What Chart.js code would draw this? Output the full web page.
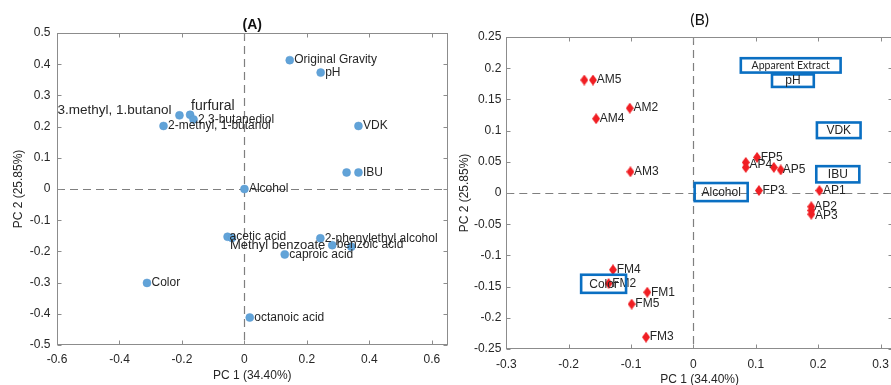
<!doctype html>
<html lang="en">
  <head>
    <meta charset="UTF-8" />
    <title>PCA loadings and scores</title>
    <script src="https://cdn.jsdelivr.net/npm/chart.js"></script>
    <style>
      html,
      body {
        margin: 0;
        padding: 0;
        width: 891px;
        height: 385px;
        overflow: hidden;
        background: #fff;
      }
      .panel {
        position: absolute;
        top: 0;
      }
      #wrapA {
        left: 0;
        width: 452px;
        height: 385px;
      }
      #wrapB {
        left: 447px;
        width: 452px;
        height: 392px;
      }
    </style>
  </head>
  <body>
    <div id="wrapA" class="panel"><canvas id="chartA"></canvas></div>
    <div id="wrapB" class="panel"><canvas id="chartB"></canvas></div>

    <script>
      // (A) variable loadings
      const varNames = [
        "Original Gravity", "pH", "3.methyl, 1.butanol", "furfural",
        "2,3-butanediol", "2-methyl, 1-butanol", "VDK", "IBU", "",
        "Alcohol", "acetic acid", "Methyl benzoate", "2-phenylethyl alcohol",
        "benzoic acid", "", "caproic acid", "Color", "octanoic acid",
      ];
      const varPC1 = [
        0.145, 0.244, -0.208, -0.174, -0.163, -0.259, 0.365, 0.365, 0.327,
        0.0, -0.054, -0.04, 0.243, 0.281, 0.342, 0.129, -0.312, 0.017,
      ];
      const varPC2 = [
        0.413, 0.373, 0.236, 0.238, 0.223, 0.202, 0.202, 0.053, 0.053,
        0.0, -0.153, -0.157, -0.158, -0.18, -0.185, -0.21, -0.301, -0.412,
      ];

      // (B) sample scores
      const sampleNames = [
        "", "AM5", "AM2", "AM4", "AM3",
        "FP5", "AP4", "", "", "AP5", "FP3", "AP1", "AP2", "", "AP3",
        "FM4", "FM2", "FM1", "FM5", "FM3",
      ];
      const samplePC1 = [
        -0.175, -0.161, -0.102, -0.156, -0.101,
        0.102, 0.084, 0.084, 0.129, 0.14, 0.105, 0.202, 0.189, 0.189, 0.189,
        -0.129, -0.136, -0.074, -0.099, -0.076,
      ];
      const samplePC2 = [
        0.181, 0.181, 0.136, 0.119, 0.034,
        0.057, 0.049, 0.041, 0.041, 0.037, 0.004, 0.004, -0.022, -0.028, -0.034,
        -0.123, -0.145, -0.159, -0.178, -0.231,
      ];

      // (B) boxed variable names, extents in PC units
      const boxNames = ["Apparent Extract", "pH", "VDK", "IBU", "Alcohol", "Color"];
      const boxLeft = [0.076, 0.126, 0.198, 0.197, 0.002, -0.18];
      const boxRight = [0.236, 0.193, 0.268, 0.266, 0.087, -0.108];
      const boxTop = [0.216, 0.19, 0.113, 0.043, 0.016, -0.131];
      const boxBottom = [0.193, 0.17, 0.088, 0.017, -0.013, -0.16];

      // tick values
      const ticksAx = [-0.6, -0.4, -0.2, 0, 0.2, 0.4, 0.6];
      const ticksAy = [-0.5, -0.4, -0.3, -0.2, -0.1, 0, 0.1, 0.2, 0.3, 0.4, 0.5];
      const ticksBx = [-0.3, -0.2, -0.1, 0, 0.1, 0.2, 0.3];
      const ticksBy = [-0.25, -0.2, -0.15, -0.1, -0.05, 0, 0.05, 0.1, 0.15, 0.2, 0.25];

      // label placement tweaks (pixels)
      const tweaksA = {
        "3.methyl, 1.butanol": { dx: -8, dy: -5, align: "right", size: 13.5 },
        furfural: { dx: 1, dy: -9, size: 14 },
        "Methyl benzoate": { dx: -2, dy: 7, size: 13 },
        "acetic acid": { dx: 2 },
      };
      const tweaksB = {
        AP4: { dy: 2 },
        AP5: { dx: 2 },
        AP3: { dy: 1.5 },
        AP2: { dx: 3 },
      };

      const FONT = "'Liberation Sans', Arial, sans-serif";
      const TEXT = "#262626";
      const AXIS = "#8c8c8c";

      const fmt = (v) => String(Math.round(v * 100) / 100);

      const frame = {
        id: "frame",
        beforeDatasetsDraw(chart) {
          const { ctx, chartArea: a } = chart;
          const x = chart.scales.x;
          const y = chart.scales.y;
          ctx.save();
          // dashed zero lines
          ctx.strokeStyle = "#7f7f7f";
          ctx.lineWidth = 1.2;
          ctx.setLineDash([8, 5]);
          const x0 = Math.round(x.getPixelForValue(0)) + 0.5;
          const y0 = Math.round(y.getPixelForValue(0)) + 0.5;
          ctx.beginPath();
          ctx.moveTo(x0, a.top);
          ctx.lineTo(x0, a.bottom);
          ctx.moveTo(a.left, y0);
          ctx.lineTo(a.right, y0);
          ctx.stroke();
          // box with inward ticks
          ctx.setLineDash([]);
          ctx.strokeStyle = AXIS;
          ctx.lineWidth = 1;
          const L = Math.round(a.left) + 0.5;
          const R = Math.round(a.right) - 0.5;
          const T = Math.round(a.top) + 0.5;
          const B = Math.round(a.bottom) - 0.5;
          ctx.strokeRect(L, T, R - L, B - T);
          ctx.beginPath();
          x.ticks.forEach((t) => {
            const px = Math.round(x.getPixelForValue(t.value)) + 0.5;
            ctx.moveTo(px, B);
            ctx.lineTo(px, B - 4);
            ctx.moveTo(px, T);
            ctx.lineTo(px, T + 4);
          });
          y.ticks.forEach((t) => {
            const py = Math.round(y.getPixelForValue(t.value)) + 0.5;
            ctx.moveTo(L, py);
            ctx.lineTo(L + 4, py);
            ctx.moveTo(R, py);
            ctx.lineTo(R - 4, py);
          });
          ctx.stroke();
          ctx.restore();
        },
        afterDatasetsDraw(chart) {
          const ctx = chart.ctx;
          chart.data.datasets.forEach((ds, di) => {
            const meta = chart.getDatasetMeta(di);
            ctx.save();
            ctx.fillStyle = TEXT;
            ctx.textBaseline = "middle";
            ds.names.forEach((name, i) => {
              if (!name) return;
              const el = meta.data[i];
              const tw = ds.tweaks[name] || {};
              ctx.font = (tw.size || 12) + "px " + FONT;
              ctx.textAlign = tw.align || "left";
              const dx = tw.dx !== undefined ? tw.dx : ds.labelGap;
              ctx.fillText(name, el.x + dx, el.y + (tw.dy || 0));
            });
            ctx.restore();
          });
        },
      };

      function axis(min, max, ticks, title, tickPad, titlePad, extra) {
        return Object.assign(
          {
            type: "linear",
            min: min,
            max: max,
            afterBuildTicks: (s) => {
              s.ticks = ticks.map((v) => ({ value: v }));
            },
            grid: { display: false, drawTicks: false },
            border: { display: false },
            ticks: {
              color: TEXT,
              padding: tickPad,
              font: { family: FONT, size: 12 },
              callback: (v) => fmt(v),
            },
            title: {
              display: true,
              text: title,
              color: TEXT,
              padding: titlePad,
              font: { family: FONT, size: 12 },
            },
          },
          extra
        );
      }

      // (A) loadings
      new Chart(document.getElementById("chartA"), {
        type: "scatter",
        data: {
          datasets: [
            {
              data: varPC1.map((v, i) => ({ x: v, y: varPC2[i] })),
              names: varNames,
              tweaks: tweaksA,
              labelGap: 4.5,
              backgroundColor: "rgb(97,163,216)",
              borderColor: "rgb(88,153,208)",
              borderWidth: 0.5,
              pointRadius: 4,
              pointHoverRadius: 4,
            },
          ],
        },
        options: {
          responsive: true,
          maintainAspectRatio: false,
          animation: false,
          layout: { padding: { left: 0, right: 4, top: 0, bottom: 0 } },
          plugins: {
            legend: { display: false },
            tooltip: { enabled: false },
            title: {
              display: true,
              text: "(A)",
              fullSize: false,
              color: "#111",
              font: { family: FONT, size: 14, weight: "bold" },
              padding: { top: 16.5, bottom: -0.3 },
            },
          },
          scales: {
            x: axis(-0.6, 0.65, ticksAx, "PC 1 (34.40%)", 7.5, { top: 0, bottom: 2.5 }, {
              afterFit: (s) => {
                s.height = 40;
              },
            }),
            y: axis(-0.5, 0.5, ticksAy, "PC 2 (25.85%)", 6.5, { top: 11.5, bottom: 0 }, {
              afterFit: (s) => {
                s.width = 57;
              },
            }),
          },
        },
        plugins: [frame],
      });

      // tall red diamond marker
      const diamond = document.createElement("canvas");
      diamond.width = 8;
      diamond.height = 11;
      (function () {
        const c = diamond.getContext("2d");
        c.fillStyle = "#f01e23";
        c.beginPath();
        c.moveTo(4, 0);
        c.lineTo(8, 5.5);
        c.lineTo(4, 11);
        c.lineTo(0, 5.5);
        c.closePath();
        c.fill();
      })();

      const boxes = {
        id: "boxes",
        afterDraw(chart) {
          const { ctx } = chart;
          const x = chart.scales.x;
          const y = chart.scales.y;
          ctx.save();
          ctx.strokeStyle = "#0a6fc2";
          ctx.lineWidth = 2.6;
          ctx.textAlign = "center";
          ctx.textBaseline = "middle";
          ctx.fillStyle = TEXT;
          boxNames.forEach((name, i) => {
            const l = x.getPixelForValue(boxLeft[i]);
            const r = x.getPixelForValue(boxRight[i]);
            const t = y.getPixelForValue(boxTop[i]);
            const b = y.getPixelForValue(boxBottom[i]);
            ctx.strokeRect(l, t, r - l, b - t);
            ctx.font =
              name === "Apparent Extract"
                ? "10.5px Lato, 'Open Sans', sans-serif"
                : "12px " + FONT;
            ctx.fillText(name, (l + r) / 2, (t + b) / 2 + 0.5);
          });
          ctx.restore();
        },
      };

      // (B) scores
      new Chart(document.getElementById("chartB"), {
        type: "scatter",
        data: {
          datasets: [
            {
              data: samplePC1.map((v, i) => ({ x: v, y: samplePC2[i] })),
              names: sampleNames,
              tweaks: tweaksB,
              labelGap: 3.7,
              pointStyle: diamond,
              pointRadius: 5,
              pointHoverRadius: 5,
            },
          ],
        },
        options: {
          responsive: true,
          maintainAspectRatio: false,
          animation: false,
          layout: { padding: { left: 0, right: 4.8, top: 0, bottom: 0 } },
          plugins: {
            legend: { display: false },
            tooltip: { enabled: false },
            title: {
              display: true,
              text: "(B)",
              fullSize: false,
              color: "#111",
              font: { family: "Lato, 'Open Sans', sans-serif", size: 16, weight: "normal" },
              padding: { top: 10.4, bottom: 7.4 },
            },
          },
          scales: {
            x: axis(-0.3, 0.32, ticksBx, "PC 1 (34.40%)", 8.5, { top: 0, bottom: 5.4 }, {
              afterFit: (s) => {
                s.height = 43;
              },
            }),
            y: axis(-0.25, 0.25, ticksBy, "PC 2 (25.85%)", 5, { top: 10, bottom: 0 }, {
              afterFit: (s) => {
                s.width = 59.3;
              },
            }),
          },
        },
        plugins: [frame, boxes],
      });
    </script>
  </body>
</html>
